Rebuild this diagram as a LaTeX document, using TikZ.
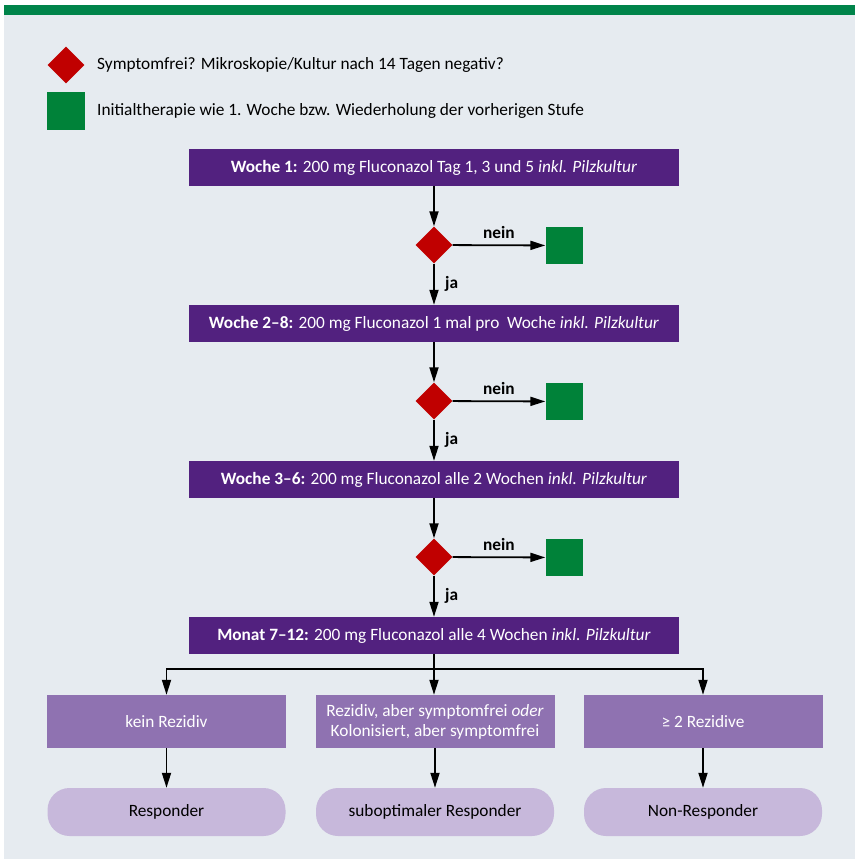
\documentclass[tikz,border=0pt]{standalone}
\usepackage{fontspec}
\setmainfont{Carlito}
\usetikzlibrary{shapes.geometric,arrows.meta}

\definecolor{bgGray}{HTML}{E6EBF0}
\definecolor{barGreen}{HTML}{00844A}
\definecolor{retryGreen}{HTML}{008239}
\definecolor{checkRed}{HTML}{C00000}
\definecolor{darkPurple}{HTML}{52217F}
\definecolor{midPurple}{HTML}{8F72B1}
\definecolor{lightPurple}{HTML}{C7B8DB}

\newcommand{\txtsize}{\fontsize{17.3}{20}\selectfont}

\tikzset{
  stepBox/.style={rectangle, fill=darkPurple, text=white, minimum width=490pt, minimum height=37pt, inner sep=0pt, font=\txtsize},
  checkDiamond/.style={diamond, fill=checkRed, inner sep=0pt, minimum width=37pt, minimum height=37pt},
  retrySquare/.style={rectangle, fill=retryGreen, inner sep=0pt, minimum size=37pt},
  resultBox/.style={rectangle, fill=midPurple, text=white, minimum width=239pt, minimum height=53pt, inner sep=0pt, align=center, font=\txtsize},
  outcomePill/.style={rectangle, rounded corners=22pt, fill=lightPurple, minimum width=238pt, minimum height=48pt, inner sep=0pt, font=\txtsize},
  legendText/.style={anchor=west, inner sep=0pt, font=\txtsize},
  flowArrow/.style={-{Triangle[length=15pt,width=9pt]}, line width=1.8pt},
  flowLine/.style={line width=1.8pt},
  noLabel/.style={above=2pt, font=\txtsize\bfseries},
  yesLabel/.style={right=7pt, font=\txtsize\bfseries},
}

\begin{document}
\begin{tikzpicture}[x=1pt, y=-1pt]
  \useasboundingbox (0,0) rectangle (855,863);
  \fill[bgGray] (4,5) rectangle (855,859);
  \fill[barGreen] (4,5) rectangle (855,15);

  % legend
  \node[checkDiamond](legendDiamond) at (66,65){};
  \node[legendText](legendDiamondText) at (97,65){Symptomfrei? Mikroskopie/Kultur nach 14 Tagen negativ?};
  \node[retrySquare, minimum size=38pt](legendSquare) at (66,110.5){};
  \node[legendText](legendSquareText) at (97,110.5){Initialtherapie wie 1. Woche bzw. Wiederholung der vorherigen Stufe};

  % therapy steps
  \node[stepBox](week1Box) at (434,167.5){\textbf{Woche 1:} 200 mg Fluconazol Tag 1, 3 und 5 \textit{inkl. Pilzkultur}};
  \node[stepBox](week2Box) at (434,323.5){\textbf{Woche 2–8:} 200 mg Fluconazol 1 mal pro~ Woche \textit{inkl. Pilzkultur}};
  \node[stepBox](week3Box) at (434,479.5){\textbf{Woche 3–6:} 200 mg Fluconazol alle 2 Wochen \textit{inkl. Pilzkultur}};
  \node[stepBox](month7Box) at (434,635.5){\textbf{Monat 7–12:} 200 mg Fluconazol alle 4 Wochen \textit{inkl. Pilzkultur}};

  % checks
  \node[checkDiamond](check1) at (434,245){};
  \node[checkDiamond](check2) at (434,401){};
  \node[checkDiamond](check3) at (434,557){};
  \node[retrySquare](retry1) at (564,245.5){};
  \node[retrySquare](retry2) at (564,401.5){};
  \node[retrySquare](retry3) at (564,557.5){};

  \draw[flowArrow] (week1Box) -- (check1);
  \draw[flowArrow] (check1) -- node[noLabel]{nein} (retry1);
  \draw[flowArrow] (check1) -- node[yesLabel]{ja} (week2Box);
  \draw[flowArrow] (week2Box) -- (check2);
  \draw[flowArrow] (check2) -- node[noLabel]{nein} (retry2);
  \draw[flowArrow] (check2) -- node[yesLabel]{ja} (week3Box);
  \draw[flowArrow] (week3Box) -- (check3);
  \draw[flowArrow] (check3) -- node[noLabel]{nein} (retry3);
  \draw[flowArrow] (check3) -- node[yesLabel]{ja} (month7Box);

  % results
  \node[resultBox](noRelapseBox) at (166.5,721.5){kein Rezidiv};
  \node[resultBox](relapseBox) at (435,721.5){Rezidiv, aber symptomfrei \textit{oder}\\Kolonisiert, aber symptomfrei};
  \node[resultBox](multiRelapseBox) at (703,721.5){≥ 2 Rezidive};

  \node[outcomePill](responder) at (166.5,812){Responder};
  \node[outcomePill](subResponder) at (435,812){suboptimaler Responder};
  \node[outcomePill](nonResponder) at (703,812){Non-Responder};

  \coordinate (split) at (434,669);
  \draw[flowLine] (month7Box.south) -- (split);
  \draw[flowArrow] (split) -| (noRelapseBox.north);
  \draw[flowArrow] (split) -- (relapseBox.north -| split);
  \draw[flowArrow] (split) -| (multiRelapseBox.north);

  \draw[flowArrow] (noRelapseBox) -- (responder);
  \draw[flowArrow] (relapseBox) -- (subResponder);
  \draw[flowArrow] (multiRelapseBox) -- (nonResponder);
\end{tikzpicture}
\end{document}
